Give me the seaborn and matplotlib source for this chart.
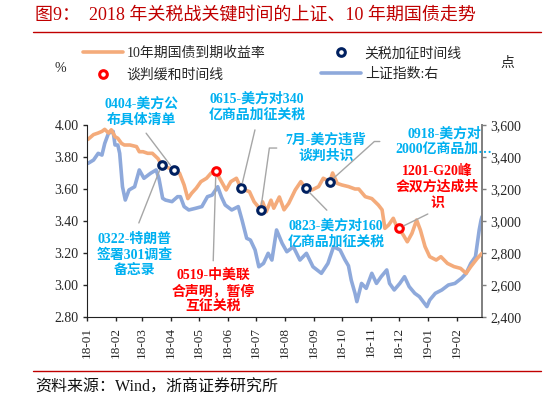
import numpy as np
import pandas as pd
import matplotlib
matplotlib.use('Agg')
import matplotlib.pyplot as plt
import matplotlib.dates as mdates
from matplotlib.lines import Line2D
from matplotlib.ticker import FuncFormatter, MultipleLocator
import seaborn as sns

sns.set_style('ticks')
plt.rcParams['font.family'] = ['Liberation Serif', 'Noto Sans CJK SC']
plt.rcParams['axes.unicode_minus'] = False

# ---------------- data ----------------
yield_dates = ["2018-01-02", "2018-01-08", "2018-01-13", "2018-01-17", "2018-01-20", "2018-01-24",
               "2018-01-27", "2018-01-31", "2018-02-03", "2018-02-07", "2018-02-10", "2018-02-16",
               "2018-02-23", "2018-02-26", "2018-03-02", "2018-03-07", "2018-03-12", "2018-03-18",
               "2018-03-22", "2018-03-30", "2018-04-04", "2018-04-10", "2018-04-15", "2018-04-19",
               "2018-04-23", "2018-04-28", "2018-05-03", "2018-05-09", "2018-05-14", "2018-05-19",
               "2018-05-23", "2018-05-30", "2018-06-04", "2018-06-10", "2018-06-15", "2018-06-24",
               "2018-06-29", "2018-07-06", "2018-07-08", "2018-07-12", "2018-07-17", "2018-07-20",
               "2018-07-26", "2018-07-31", "2018-08-05", "2018-08-12", "2018-08-18", "2018-08-23",
               "2018-08-30", "2018-09-06", "2018-09-11", "2018-09-18", "2018-09-21", "2018-09-26",
               "2018-10-01", "2018-10-08", "2018-10-15", "2018-10-19", "2018-10-26", "2018-11-02",
               "2018-11-09", "2018-11-13", "2018-11-16", "2018-11-20", "2018-11-25", "2018-11-29",
               "2018-12-01", "2018-12-06", "2018-12-10", "2018-12-15", "2018-12-20", "2018-12-24",
               "2018-12-29", "2019-01-03", "2019-01-10", "2019-01-15", "2019-01-22", "2019-01-29",
               "2019-02-05", "2019-02-11", "2019-02-16", "2019-02-23", "2019-02-28"]
yield_vals = [3.91, 3.94, 3.95, 3.96, 3.973, 3.95,
              3.97, 3.927, 3.917, 3.885, 3.875, 3.875,
              3.865, 3.833, 3.833, 3.823, 3.823, 3.79,
              3.75, 3.73, 3.72, 3.70, 3.625, 3.54,
              3.573, 3.605, 3.646, 3.667, 3.70, 3.71,
              3.667, 3.594, 3.646, 3.667, 3.604, 3.583,
              3.52, 3.47, 3.52, 3.458, 3.53, 3.48,
              3.55, 3.47, 3.51, 3.594, 3.646, 3.604,
              3.594, 3.615, 3.667, 3.646, 3.70, 3.635,
              3.625, 3.615, 3.60, 3.60, 3.552, 3.54,
              3.50, 3.47, 3.354, 3.375, 3.417, 3.36,
              3.355, 3.31, 3.27, 3.323, 3.406, 3.344,
              3.24, 3.177, 3.156, 3.177, 3.135, 3.115,
              3.104, 3.073, 3.115, 3.167, 3.198]

sse_dates = ["2018-01-02", "2018-01-08", "2018-01-13", "2018-01-17", "2018-01-20", "2018-01-24",
             "2018-01-29", "2018-01-31", "2018-02-03", "2018-02-05", "2018-02-08", "2018-02-11",
             "2018-02-15", "2018-02-21", "2018-02-26", "2018-03-03", "2018-03-10", "2018-03-16",
             "2018-03-19", "2018-03-23", "2018-03-26", "2018-04-02", "2018-04-08", "2018-04-11",
             "2018-04-15", "2018-04-20", "2018-04-27", "2018-05-04", "2018-05-10", "2018-05-15",
             "2018-05-21", "2018-05-25", "2018-05-29", "2018-06-05", "2018-06-12", "2018-06-16",
             "2018-06-21", "2018-06-25", "2018-06-30", "2018-07-04", "2018-07-09", "2018-07-14",
             "2018-07-18", "2018-07-23", "2018-07-29", "2018-08-03", "2018-08-10", "2018-08-17",
             "2018-08-24", "2018-08-31", "2018-09-09", "2018-09-16", "2018-09-22", "2018-09-29",
             "2018-10-04", "2018-10-08", "2018-10-11", "2018-10-15", "2018-10-17", "2018-10-22",
             "2018-10-27", "2018-11-02", "2018-11-07", "2018-11-12", "2018-11-18", "2018-11-21",
             "2018-11-26", "2018-12-02", "2018-12-07", "2018-12-12", "2018-12-18", "2018-12-23",
             "2018-12-31", "2019-01-03", "2019-01-09", "2019-01-16", "2019-01-23", "2019-01-30",
             "2019-02-06", "2019-02-11", "2019-02-16", "2019-02-21", "2019-02-25", "2019-02-27",
             "2019-02-28"]
sse_vals = [3360, 3381, 3423, 3412, 3485, 3548,
            3560, 3475, 3475, 3423, 3214, 3131,
            3194, 3214, 3319, 3267, 3298, 3319,
            3267, 3142, 3131, 3121, 3152, 3152,
            3090, 3069, 3079, 3090, 3152, 3162,
            3214, 3150, 3100, 3069, 3090, 3006,
            2892, 2881, 2819, 2714, 2735, 2798,
            2756, 2944, 2860, 2808, 2839, 2756,
            2798, 2714, 2673, 2735, 2839, 2819,
            2760, 2720, 2630, 2548, 2496, 2610,
            2579, 2673, 2610, 2652, 2694, 2610,
            2569, 2610, 2652, 2590, 2548, 2527,
            2465, 2506, 2548, 2569, 2600, 2610,
            2642, 2673, 2735, 2777, 2944, 3006,
            3027]

tariff_dates = ["2018-03-22", "2018-04-04", "2018-06-15", "2018-07-06", "2018-08-23", "2018-09-18"]
tariff_vals = [3.75, 3.72, 3.604, 3.47, 3.604, 3.646]
talk_dates = ["2018-05-19", "2018-12-01"]
talk_vals = [3.71, 3.355]

legend_labels = ["10年期国债到期收益率", "谈判缓和时间线", "关税加征时间线", "上证指数:右"]
title_text = "图9：  2018 年关税战关键时间的上证、10 年期国债走势"
source_text = "资料来源：Wind，浙商证券研究所"

# annotations: text, event date, event value, colour
notes = [
    ("0404-美方公\n布具体清单", "2018-04-04", 3.72, "blue"),
    ("0322-特朗普\n签署301调查\n备忘录", "2018-03-22", 3.75, "blue"),
    ("0519-中美联\n合声明，暂停\n互征关税", "2018-05-19", 3.71, "red"),
    ("0615-美方对340\n亿商品加征关税", "2018-06-15", 3.604, "blue"),
    ("7月-美方违背\n谈判共识", "2018-07-06", 3.47, "blue"),
    ("0823-美方对160\n亿商品加征关税", "2018-08-23", 3.604, "blue"),
    ("0918-美方对\n2000亿商品加…", "2018-09-18", 3.646, "blue"),
    ("1201-G20峰\n会双方达成共\n识", "2018-12-01", 3.355, "red"),
]
# layout of annotation texts (axes fraction), leader-line style
note_layout = [
    dict(pos=(0.137, 1.068), relpos=(0.5, 0.0), conn="arc3", sA=3, sB=4),
    dict(pos=(0.1215, 0.323), relpos=(0.5, 1.0), conn="arc3", sA=5, sB=4),
    dict(pos=(0.319, 0.135), relpos=(0.5, 1.0), conn="arc3", sA=3, sB=4),
    dict(pos=(0.4304, 1.096), relpos=(0.5, 0.0), conn="arc3", sA=4, sB=4),
    dict(pos=(0.605, 0.880), relpos=(0.0, 0.5), conn="angle,angleA=0,angleB=82,rad=0", sA=4, sB=4),
    dict(pos=(0.630, 0.432), relpos=(0.5, 1.0), conn="arc3", sA=6, sB=4),
    dict(pos=(0.9038, 0.914), relpos=(0.0, 0.5), conn="angle,angleA=0,angleB=42,rad=0", sA=9, sB=4),
    dict(pos=(0.886, 0.677), relpos=(0.5, 0.0), conn="arc3", sA=2, sB=4),
]

ORANGE = "#F4AB7B"
BLUE = "#8EA9DB"
NAVY = "#002060"
RED = "#FF0000"
TXT_BLUE = "#00B0F0"
TITLE_RED = "#C00000"

W, H = 548, 401
fig = plt.figure(figsize=(W / 100, H / 100), dpi=100)
ax = fig.add_axes([87 / W, (H - 317) / H, 395 / W, 192 / H])
ax2 = ax.twinx()

yd = pd.to_datetime(yield_dates)
sd = pd.to_datetime(sse_dates)
td = pd.to_datetime(tariff_dates)
kd = pd.to_datetime(talk_dates)

sns.lineplot(x=sd, y=sse_vals, ax=ax2, color=BLUE, lw=2.6)
sns.lineplot(x=yd, y=yield_vals, ax=ax, color=ORANGE, lw=2.6)
ax.set_zorder(ax2.get_zorder() + 1)
ax.patch.set_visible(False)

sns.scatterplot(x=td, y=tariff_vals, ax=ax, marker='o', s=30, color='white',
                edgecolor=NAVY, linewidth=2.2, zorder=6)
sns.scatterplot(x=kd, y=talk_vals, ax=ax, marker='o', s=30, color='white',
                edgecolor=RED, linewidth=2.2, zorder=6)

ax.set_xlim(pd.Timestamp("2018-01-01"), pd.Timestamp("2019-02-28"))
ax.set_ylim(2.8, 4.0)
ax2.set_ylim(2400, 3600)
ax.yaxis.set_major_locator(MultipleLocator(0.2))
ax2.yaxis.set_major_locator(MultipleLocator(200))
ax.yaxis.set_major_formatter(FuncFormatter(lambda v, p: f"{v:.2f}"))
ax2.yaxis.set_major_formatter(FuncFormatter(lambda v, p: f"{v:,.0f}"))
ax.xaxis.set_major_locator(mdates.MonthLocator())
ax.xaxis.set_major_formatter(mdates.DateFormatter("%y-%m"))
for a in (ax, ax2):
    a.set_xlabel("")
    a.set_ylabel("")
    a.spines['top'].set_visible(False)
ax.spines['right'].set_visible(False)
ax2.spines['left'].set_visible(False)
ax2.spines['bottom'].set_visible(False)
ax.spines['left'].set_color('#222222')
ax.spines['bottom'].set_color('#222222')
ax2.spines['right'].set_color('#7F7F7F')
ax2.spines['right'].set_linewidth(1.4)

ax.tick_params(axis='y', direction='out', length=3, width=1, labelsize=10, pad=3)
ax.tick_params(axis='x', direction='out', length=3, width=1, labelsize=9.5, pad=4,
               labelrotation=90)
ax2.tick_params(axis='y', direction='out', length=3, width=1, labelsize=10, pad=3,
                color='#7F7F7F')

for (txt, dte, val, col), lay in zip(notes, note_layout):
    ax.annotate(txt, xy=(mdates.date2num(pd.Timestamp(dte)), val), xycoords='data',
                xytext=lay['pos'], textcoords='axes fraction', ha='center', va='center',
                color=TXT_BLUE if col == 'blue' else RED, fontsize=10, fontweight='bold',
                linespacing=1.25, annotation_clip=False, zorder=7,
                arrowprops=dict(arrowstyle='-', color='#A6A6A6', lw=1.0,
                                shrinkA=lay['sA'], shrinkB=lay['sB'], relpos=lay['relpos'],
                                connectionstyle=lay['conn']))

handles = [Line2D([], [], color=ORANGE, lw=2.6),
           Line2D([], [], ls='none', marker='o', ms=5.5, mfc='white', mec=RED, mew=2.2),
           Line2D([], [], ls='none', marker='o', ms=5.5, mfc='white', mec=NAVY, mew=2.2),
           Line2D([], [], color=BLUE, lw=2.6)]
fig.legend(handles, legend_labels, loc='upper left', bbox_to_anchor=(83 / W, 1 - 47 / H),
           ncol=2, frameon=False, fontsize=10, handlelength=2.9, handletextpad=0.25,
           columnspacing=4.0, labelspacing=0.55, borderpad=0, borderaxespad=0)

fig.text(60 / W, 1 - 68 / H, "%", ha='center', va='center', fontsize=10)
fig.text(507 / W, 1 - 63 / H, "点", ha='center', va='center', fontsize=10)

fig.text(35 / W, 1 - 15 / H, title_text, ha='left', va='center', fontsize=13, color=TITLE_RED)
fig.add_artist(Line2D([33 / W, 541 / W], [1 - 31.5 / H] * 2, color=TITLE_RED, lw=1.0))
fig.add_artist(Line2D([33 / W, 541 / W], [1 - 371 / H] * 2, color=TITLE_RED, lw=1.0))
fig.text(35 / W, 1 - 388 / H, source_text, ha='left', va='center', fontsize=11.5, color='#111111')

fig.savefig("out.png", dpi=100)
